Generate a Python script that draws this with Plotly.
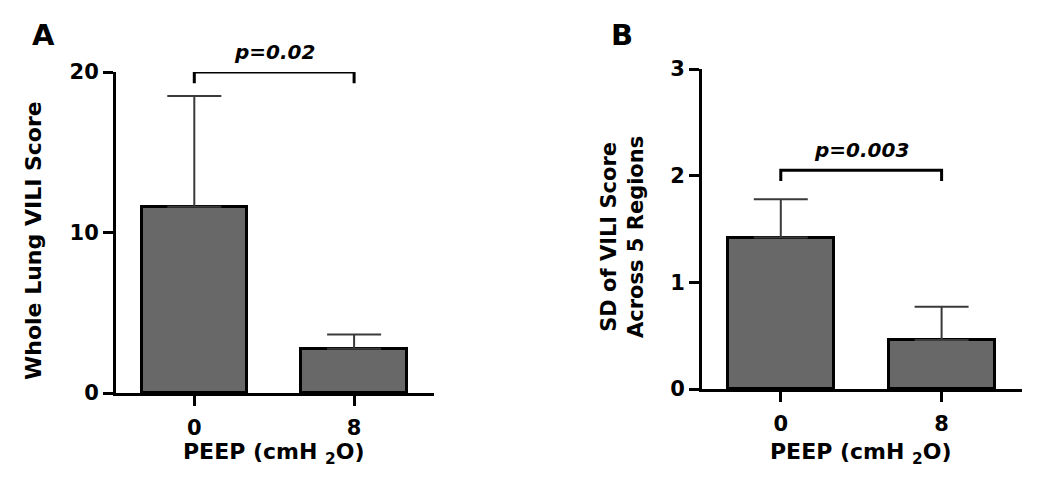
import plotly.graph_objects as go

# data
peep_labels = ["0", "8"]
vili_mean = [11.6, 2.75]
vili_err = [6.9, 0.9]
sd_mean = [1.42, 0.46]
sd_err = [0.36, 0.31]
p_left = "p=0.02"
p_right = "p=0.003"
bracket_left = 20.0
bracket_right = 2.05

# page has an 8px body margin, so the figure is 16px smaller than the window
PAD = 8
W, H = 1050 - 2 * PAD, 502 - 2 * PAD
FONT = "DejaVu Sans"
BAR_FILL = "#686868"


def px_x(v):
    return (v - PAD) / W


def px_y(v):
    return (H + PAD - v) / H


fig = go.Figure()

xpos = list(range(len(peep_labels)))

panels = [
    ("x", "y", vili_mean, vili_err, bracket_left, 0.7, p_left),
    ("x2", "y2", sd_mean, sd_err, bracket_right, 0.1, p_right),
]

for xa, ya, means, errs, top, drop, ptxt in panels:
    fig.add_trace(go.Bar(
        x=xpos, y=means, xaxis=xa, yaxis=ya,
        width=0.66,
        marker=dict(color=BAR_FILL, line=dict(color="black", width=3)),
        error_y=dict(type="data", array=errs, arrayminus=[0] * len(errs),
                     symmetric=False, color="#3a3a3a", thickness=2, width=27),
        showlegend=False, hoverinfo="skip",
    ))
    # significance bracket
    fig.add_trace(go.Scatter(
        x=[xpos[0], xpos[0], xpos[1], xpos[1]],
        y=[top - drop, top, top, top - drop],
        xaxis=xa, yaxis=ya, mode="lines",
        line=dict(color="black", width=3),
        cliponaxis=False, showlegend=False, hoverinfo="skip",
    ))
    fig.add_annotation(
        x=0.5, y=top, xref=xa, yref=ya, text="<b><i>" + ptxt + "</i></b>",
        showarrow=False, yanchor="bottom", yshift=6,
        font=dict(family=FONT, size=20, color="black"),
    )

axis_common = dict(
    showline=True, linecolor="black", linewidth=3,
    ticks="outside", ticklen=10, tickwidth=3, tickcolor="black",
    showgrid=False, zeroline=False, fixedrange=True, automargin=False,
    tickfont=dict(family=FONT, size=21, color="black", weight="bold"),
)
x_extra = dict(ticklabelstandoff=4)

fig.update_layout(
    width=W, height=H,
    margin=dict(l=0, r=0, t=0, b=0, autoexpand=False),
    paper_bgcolor="white", plot_bgcolor="white",
    bargap=0,
    xaxis=dict(axis_common, **x_extra, domain=[px_x(116), px_x(434)],
               range=[-0.49, 1.5], tickvals=xpos, ticktext=peep_labels,
               anchor="y"),
    yaxis=dict(axis_common, domain=[px_y(393), px_y(72)], range=[0, 20],
               tickvals=[0, 10, 20], anchor="x"),
    xaxis2=dict(axis_common, **x_extra, domain=[px_x(702), px_x(1022)],
                range=[-0.49, 1.5], tickvals=xpos, ticktext=peep_labels,
                anchor="y2"),
    yaxis2=dict(axis_common, domain=[px_y(389), px_y(69)], range=[0, 3],
                tickvals=[0, 1, 2, 3], anchor="x2"),
)

title_font = dict(family=FONT, size=21, color="black")
texts = [
    ("<b>A</b>", 43, 35, 0, 29),
    ("<b>B</b>", 622, 35, 0, 29),
    ("<b>Whole Lung VILI Score</b>", 33, 241, -90, 22),
    ("<b>SD of VILI Score<br>Across 5 Regions</b>", 622, 237, -90, 21),
    ("<b>PEEP (cmH <sub>2</sub>O)</b>", 274, 453, 0, 22),
    ("<b>PEEP (cmH <sub>2</sub>O)</b>", 861, 453, 0, 22),
]
for txt, x, y, ang, size in texts:
    fig.add_annotation(
        x=px_x(x), y=px_y(y), xref="paper", yref="paper", text=txt,
        textangle=ang, showarrow=False, xanchor="center", yanchor="middle",
        font=dict(title_font, size=size),
    )

fig.write_html("out.html")
